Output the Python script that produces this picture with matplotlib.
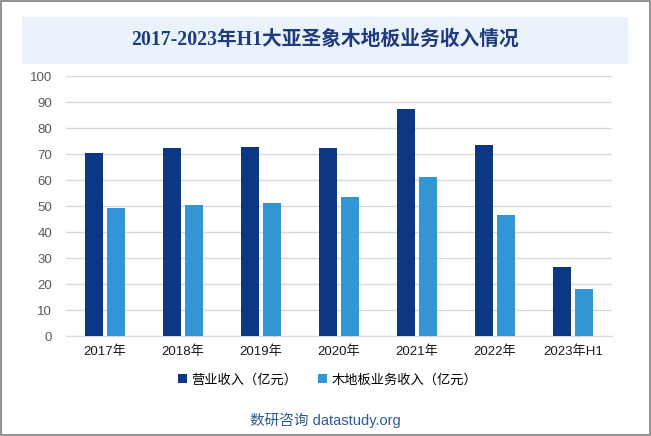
import matplotlib
matplotlib.use('Agg')
import matplotlib.pyplot as plt
from matplotlib.patches import Rectangle
import numpy as np

plt.rcParams['font.family'] = ['Liberation Sans', 'Noto Sans CJK SC', 'DejaVu Sans']

# data
years = ['2017年', '2018年', '2019年', '2020年', '2021年', '2022年', '2023年H1']
revenue = [70.4, 72.3, 72.7, 72.3, 87.3, 73.5, 26.5]
floor_revenue = [49.2, 50.4, 51.2, 53.5, 61.2, 46.5, 18.1]
yticks = [0, 10, 20, 30, 40, 50, 60, 70, 80, 90, 100]

dark = '#0D3784'
light = '#3196D3'

fig = plt.figure(figsize=(6.51, 4.36), dpi=100)
fig.patch.set_facecolor('white')

# outer border
fig.add_artist(Rectangle((0.001, 0.002), 0.997, 0.996, transform=fig.transFigure,
                         fill=False, edgecolor='#808080', linewidth=1.2))
# title box
fig.add_artist(Rectangle((22 / 651, 1 - 64 / 436), 606 / 651, 47 / 436,
                         transform=fig.transFigure, facecolor='#EAF2FC',
                         edgecolor='none'))
fig.text(325 / 651, 1 - 40 / 436, '2017-2023年H1大亚圣象木地板业务收入情况',
         ha='center', va='center', fontsize=14.2, fontweight='bold',
         color='#1F3B7D', family=['Liberation Serif', 'Noto Sans CJK SC'])

ax = fig.add_axes([66 / 651, 1 - 336 / 436, 546 / 651, 260 / 436])
x = np.arange(len(years))
w = 0.23
off = 0.147
ax.bar(x - off, revenue, w, color=dark, label='营业收入（亿元）', zorder=3)
ax.bar(x + off, floor_revenue, w, color=light, label='木地板业务收入（亿元）', zorder=3)

ax.set_xlim(-0.5, len(years) - 0.5)
ax.set_ylim(0, 100)
ax.set_yticks(yticks)
ax.set_xticks(x)
ax.set_xticklabels(years)
ax.yaxis.grid(True, color='#D9D9D9', linewidth=1, zorder=0)
for s in ['top', 'right', 'left']:
    ax.spines[s].set_visible(False)
ax.spines['bottom'].set_color('#D9D9D9')
ax.tick_params(axis='y', length=0, labelsize=9.5, labelcolor='#595959', pad=10)
ax.tick_params(axis='x', length=0, labelsize=9.5, labelcolor='#1a1a1a', pad=7)

ax.legend(loc='upper center', bbox_to_anchor=(0.479, -0.1), ncol=2, frameon=False,
          fontsize=9.5, handlelength=0.7, handleheight=0.7, handletextpad=0.3,
          columnspacing=1.6)

fig.text(325 / 651, 1 - 420 / 436, '数研咨询 datastudy.org', ha='center', va='center',
         fontsize=10.5, color='#2F5A8F')

fig.savefig('out.png', dpi=100)
